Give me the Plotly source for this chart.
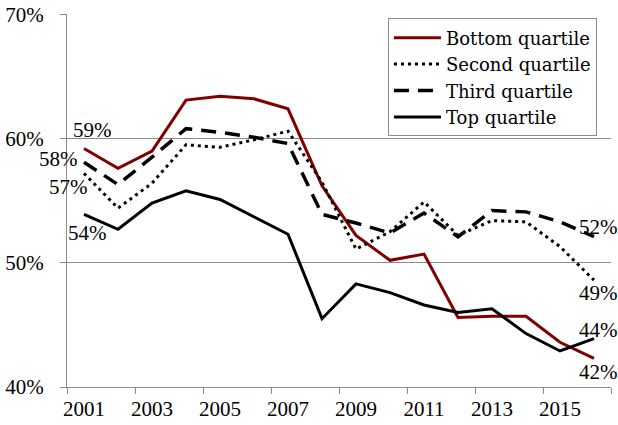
import plotly.graph_objects as go

years = list(range(2001, 2017))
bottom = [59.2, 57.6, 59.0, 63.1, 63.4, 63.2, 62.4, 56.2, 52.2, 50.2, 50.7, 45.6, 45.7, 45.7, 43.6, 42.3]
second = [57.2, 54.4, 56.4, 59.5, 59.3, 59.9, 60.6, 56.5, 51.1, 52.5, 54.9, 52.2, 53.4, 53.3, 51.3, 48.6]
third = [58.1, 56.3, 58.5, 60.8, 60.5, 60.1, 59.6, 53.9, 53.2, 52.4, 54.0, 52.1, 54.2, 54.1, 53.3, 52.1]
top = [53.9, 52.7, 54.8, 55.8, 55.1, 53.7, 52.3, 45.5, 48.3, 47.6, 46.6, 46.0, 46.3, 44.3, 42.9, 43.9]
names = ["Bottom quartile", "Second quartile", "Third quartile", "Top quartile"]
x_tick_labels = ["2001", "2003", "2005", "2007", "2009", "2011", "2013", "2015"]

SERIF = "'Liberation Serif', 'Times New Roman', Times, serif"
GRAY = "#8c8c8c"

fig = go.Figure()
styles = [
    dict(color="#800000", width=3, dash="solid"),
    dict(color="black", width=3, dash="3px,4px"),
    dict(color="black", width=3.5, dash="15px,9px"),
    dict(color="black", width=3, dash="solid"),
]
for name, vals, st in zip(names, [bottom, second, third, top], styles):
    fig.add_trace(go.Scatter(x=years, y=vals, mode="lines", name=name, line=st))

# data labels: (series, index, xshift, yshift)
labels = [
    (bottom, 0, 8, 19),
    (third, 0, -26, 3),
    (second, 0, -16, -14),
    (top, 0, 3, -19),
    (third, -1, 4, 10),
    (second, -1, 4, -13),
    (top, -1, 4, 9),
    (bottom, -1, 4, -14),
]
for vals, i, xs, ys in labels:
    fig.add_annotation(x=years[i], y=vals[i], text=f"{round(vals[i])}%", showarrow=False,
                       xshift=xs, yshift=ys, font=dict(family=SERIF, size=21, color="black"))

fig.update_layout(
    width=618, height=425,
    margin=dict(l=67, r=7, t=14, b=38, autoexpand=False),
    paper_bgcolor="white", plot_bgcolor="white",
    font=dict(family=SERIF, size=21, color="black"),
    showlegend=True,
    legend=dict(x=0.59, y=0.988, xanchor="left", yanchor="top",
                bgcolor="white", bordercolor=GRAY, borderwidth=1,
                font=dict(family="'DejaVu Serif', serif", size=18, color="black"),
                itemwidth=47, tracegroupgap=0),
)
fig.update_xaxes(
    range=[2000.5, 2016.5], automargin=False,
    tickmode="array", tickvals=[int(t) for t in x_tick_labels], ticktext=x_tick_labels,
    ticks="", showgrid=False,
    showline=True, linecolor=GRAY, linewidth=1,
    minor=dict(ticks="outside", tickmode="array",
               tickvals=[y - 0.5 for y in years[::2]] + [years[-1] + 0.5],
               ticklen=6, tickcolor=GRAY, showgrid=False),
    tickfont=dict(family=SERIF, size=21, color="black"),
    ticklabelstandoff=3,
    zeroline=False,
)
fig.update_yaxes(
    range=[40, 70.03], automargin=False, tickmode="linear", tick0=40, dtick=10, ticksuffix="%",
    ticks="outside", ticklen=6, tickcolor=GRAY,
    showgrid=True, gridcolor=GRAY, gridwidth=1,
    showline=True, linecolor=GRAY, linewidth=1,
    tickfont=dict(family=SERIF, size=21, color="black"),
    ticklabelstandoff=12,
    zeroline=False,
)

fig.write_html("out.html", config={"displayModeBar": False},
               post_script="document.body.style.margin='0';document.body.style.padding='0';")
